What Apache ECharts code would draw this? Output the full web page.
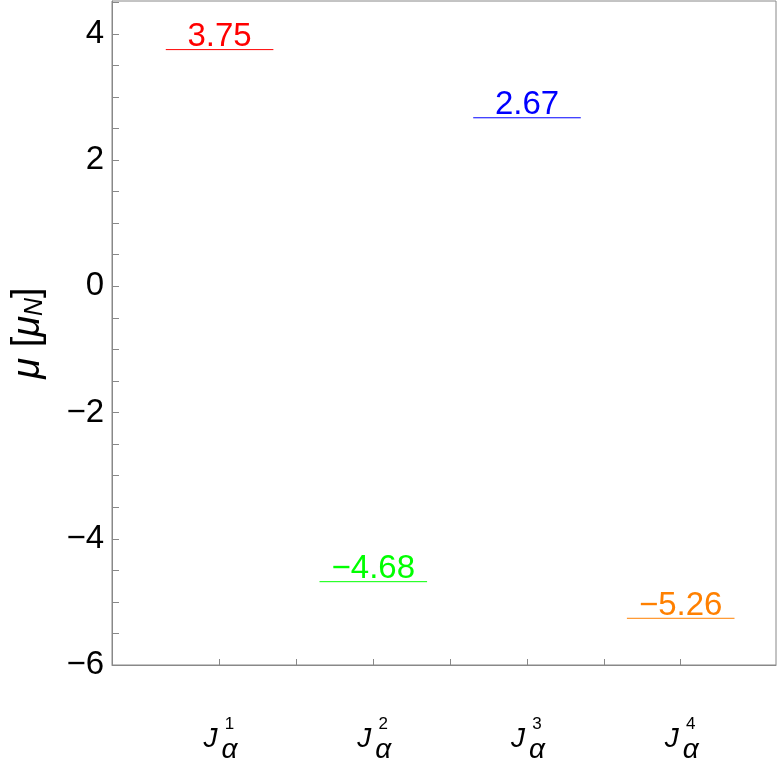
<!DOCTYPE html>
<html>
<head>
<meta charset="utf-8">
<script src="https://cdn.jsdelivr.net/npm/echarts@6/dist/echarts.min.js"></script>
<style>
  html, body { margin: 0; padding: 0; background: #fff; }
  #chart { width: 781px; height: 760px; }
</style>
</head>
<body>
<div id="chart"></div>
<script>
// 数据
const positions = [1, 2, 3, 4]
const superscripts = ['1', '2', '3', '4']
const moments = [3.75, -4.68, 2.67, -5.26]
const momentColors = ['#ff0000', '#00ff00', '#0000ff', '#ff8000']
const yTickValues = [-6, -5.5, -5, -4.5, -4, -3.5, -3, -2.5, -2, -1.5, -1, -0.5, 0, 0.5, 1, 1.5, 2, 2.5, 3, 3.5, 4, 4.5]
const yLabelValues = [-6, -4, -2, 0, 2, 4]
const xTickValues = [1, 1.5, 2, 2.5, 3, 3.5, 4]

const FONT = '"Liberation Sans", Arial, sans-serif'
const HALF_WIDTH = 0.35
const AXIS_COLOR = '#888888'
const X_MIN = 0.3
const X_MAX = 4.62

// 负号用 U+2212
const formatNum = (v) => v < 0 ? '\u2212' + Math.abs(v) : String(v)

// 画每个能级的短横线和数值
const renderLevel = (params, api) => {
  const x = api.value(0)
  const v = api.value(1)
  const color = momentColors[api.value(2)]
  const start = api.coord([x - HALF_WIDTH, v])
  const end = api.coord([x + HALF_WIDTH, v])
  const mid = api.coord([x, v])
  return {
    type: 'group',
    children: [
      {
        type: 'line',
        shape: { x1: start[0], y1: start[1], x2: end[0], y2: end[1] },
        style: { stroke: color, lineWidth: 1 }
      },
      {
        type: 'text',
        x: mid[0],
        y: mid[1] + 4,
        style: {
          text: formatNum(v),
          fill: color,
          fontSize: 33,
          fontFamily: FONT,
          align: 'center',
          verticalAlign: 'bottom'
        }
      }
    ]
  }
}

const chart = echarts.init(document.getElementById('chart'))

const option = {
  animation: false,
  backgroundColor: '#ffffff',
  grid: {
    left: 112,
    right: 5,
    top: 1,
    bottom: 95,
    containLabel: false,
    outerBoundsMode: 'none',
    show: true,
    borderColor: AXIS_COLOR,
    borderWidth: 1
  },
  xAxis: [
    {
      // 主轴：刻度 + J 和上标
      type: 'value',
      min: X_MIN,
      max: X_MAX,
      axisLine: { show: true, onZero: false, lineStyle: { color: AXIS_COLOR } },
      splitLine: { show: false },
      axisTick: {
        show: true,
        inside: true,
        length: 6,
        customValues: xTickValues,
        lineStyle: { color: AXIS_COLOR }
      },
      axisLabel: {
        customValues: positions,
        margin: 51,
        formatter: (v) => '{j|J}{s|' + superscripts[positions.indexOf(v)] + '}',
        rich: {
          j: { fontSize: 28, fontStyle: 'italic', fontFamily: FONT, color: '#000', width: 20, lineHeight: 46 },
          s: { fontSize: 17, fontFamily: FONT, color: '#000', width: 18, align: 'center', lineHeight: 16, verticalAlign: 'top' }
        }
      }
    },
    {
      // 只放下标 α
      type: 'value',
      min: X_MIN,
      max: X_MAX,
      position: 'bottom',
      axisLine: { show: false, onZero: false },
      axisTick: { show: false },
      splitLine: { show: false },
      axisLabel: {
        customValues: positions,
        margin: 73,
        formatter: () => '{p| }{a|α}',
        rich: {
          p: { fontSize: 28, width: 20, lineHeight: 24 },
          a: { fontSize: 28, fontStyle: 'italic', fontFamily: FONT, color: '#000', width: 18, align: 'left', lineHeight: 24 }
        }
      }
    }
  ],
  yAxis: {
    type: 'value',
    min: -6,
    max: 4.52,
    name: '{m|μ} [{m|μ}{n|N}]',
    nameLocation: 'middle',
    nameRotate: 90,
    nameGap: 64,
    nameTextStyle: {
      rich: {
        m: { fontSize: 38, fontStyle: 'italic', fontFamily: FONT, color: '#000' },
        n: { fontSize: 25, fontStyle: 'italic', fontFamily: FONT, color: '#000', verticalAlign: 'bottom', padding: [15, 0, 0, 0] }
      },
      fontSize: 38,
      fontFamily: FONT,
      color: '#000'
    },
    axisLine: { show: true, lineStyle: { color: AXIS_COLOR } },
    splitLine: { show: false },
    axisTick: {
      show: true,
      inside: true,
      length: 7,
      customValues: yTickValues,
      lineStyle: { color: AXIS_COLOR }
    },
    axisLabel: {
      customValues: yLabelValues,
      margin: 8,
      fontSize: 33,
      fontFamily: FONT,
      color: '#000',
      formatter: formatNum
    }
  },
  series: [
    {
      type: 'custom',
      renderItem: renderLevel,
      encode: { x: 0, y: 1 },
      data: positions.map((p, i) => [p, moments[i], i]),
      clip: false
    }
  ]
}

chart.setOption(option)
</script>
</body>
</html>
